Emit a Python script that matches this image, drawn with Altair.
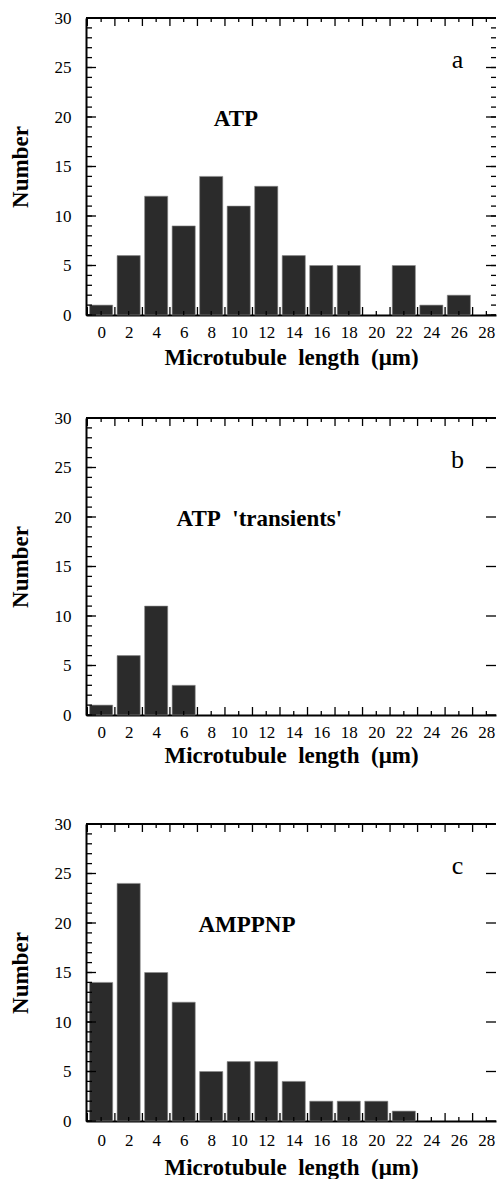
import altair as alt
import pandas as pd

# ---- data ----
bin_centers = [0, 2, 4, 6, 8, 10, 12, 14, 16, 18, 20, 22, 24, 26, 28]
counts_a = [1, 6, 12, 9, 14, 11, 13, 6, 5, 5, 0, 5, 1, 2, 0]
counts_b = [1, 6, 11, 3, 0, 0, 0, 0, 0, 0, 0, 0, 0, 0, 0]
counts_c = [14, 24, 15, 12, 5, 6, 6, 4, 2, 2, 2, 1, 0, 0, 0]
panel_letters = ["a", "b", "c"]
panel_names = ["ATP", "ATP\u00a0\u00a0'transients'", "AMPPNP"]
x_tick_labels = [0, 2, 4, 6, 8, 10, 12, 14, 16, 18, 20, 22, 24, 26, 28]
x_ticks_odd = list(range(-1, 29, 2))
x_ticks_even = list(range(0, 29, 2))
y_tick_labels = [0, 5, 10, 15, 20, 25, 30]
y_ticks_minor = list(range(0, 31))

W, H = 410, 297
FONT = "Liberation Serif"
HALF = 0.84
xscale = alt.Scale(domain=[-1.1, 28.7], nice=False, zero=False)
yscale = alt.Scale(domain=[0, 30], nice=False)


def xaxis(lp, tp):
    return alt.Axis(
        values=x_tick_labels,
        ticks=False,
        grid=False,
        domain=True,
        domainColor="black",
        domainWidth=2,
        labelFont=FONT,
        labelFontSize=17,
        labelColor="black",
        labelPadding=lp,
        labelFlush=False,
        title="Microtubule\u00a0\u00a0length\u00a0\u00a0(\u03bcm)",
        titleFont=FONT,
        titleFontSize=23,
        titleFontWeight="bold",
        titleColor="black",
        titlePadding=tp,
    )


YAXIS = alt.Axis(
    values=y_tick_labels,
    ticks=False,
    grid=False,
    domain=True,
    domainColor="black",
    domainWidth=2,
    labelFont=FONT,
    labelFontSize=17,
    labelColor="black",
    labelPadding=15,
    labelFlush=False,
    title="Number",
    titleFont=FONT,
    titleFontSize=23,
    titleFontWeight="bold",
    titleColor="black",
    titlePadding=22,
)


def panel(counts, letter, name, name_x, right_minor, lp, tp):
    XAXIS = xaxis(lp, tp)
    df = pd.DataFrame({"c": bin_centers, "n": counts})
    df = df[df.n > 0]
    bars = (
        alt.Chart(df)
        .transform_calculate(x0=f"datum.c - {HALF}", x1=f"datum.c + {HALF}")
        .mark_bar(color="#2b2b2b", stroke="#8a8a8a", strokeWidth=0.6)
        .encode(
            x=alt.X("x0:Q", scale=xscale, axis=XAXIS),
            x2="x1:Q",
            y=alt.Y("n:Q", scale=yscale, axis=YAXIS),
            y2=alt.datum(0),
        )
    )

    odd = pd.DataFrame({"t": x_ticks_odd})
    even = pd.DataFrame({"t": x_ticks_even})
    ymin = pd.DataFrame({"t": y_ticks_minor})
    ymaj = pd.DataFrame({"t": y_tick_labels})

    def xrule(d, y0, y1, sw=1.3):
        return alt.Chart(d).mark_rule(color="black", strokeWidth=sw).encode(
            x=alt.X("t:Q", scale=xscale, axis=XAXIS), y=alt.value(y0), y2=alt.value(y1)
        )

    def yrule(d, x0, x1, sw=1.3):
        return alt.Chart(d).mark_rule(color="black", strokeWidth=sw).encode(
            y=alt.Y("t:Q", scale=yscale, axis=YAXIS), x=alt.value(x0), x2=alt.value(x1)
        )

    layers = [
        bars,
        xrule(odd, H, H - 8),
        xrule(even, H, H - 4),
        xrule(odd, 0, 8),
        xrule(even, 0, 4),
        yrule(ymin, 0, 6),
        yrule(ymaj, 0, 10),
        yrule(ymaj, W, W - 10),
    ]
    if right_minor:
        layers.append(yrule(ymin, W, W - 5))
    top = alt.Chart(pd.DataFrame({"t": [0]})).mark_rule(color="black", strokeWidth=2).encode(
        x=alt.value(0), x2=alt.value(W), y=alt.value(0)
    )
    layers.append(top)
    letter_t = alt.Chart(pd.DataFrame({"s": [letter]})).transform_calculate(p="25.9", q="25.8").mark_text(
        font=FONT, fontSize=26, color="black", align="center", baseline="middle"
    ).encode(x=alt.X("p:Q", scale=xscale, axis=XAXIS), y=alt.Y("q:Q", scale=yscale, axis=YAXIS), text="s:N")
    name_t = alt.Chart(pd.DataFrame({"s": [name]})).transform_calculate(p=str(name_x), q="19.8").mark_text(
        font=FONT, fontSize=23, fontWeight="bold", color="black", align="center", baseline="middle"
    ).encode(x=alt.X("p:Q", scale=xscale, axis=XAXIS), y=alt.Y("q:Q", scale=yscale, axis=YAXIS), text="s:N")
    layers += [letter_t, name_t]
    return alt.layer(*layers).properties(width=W, height=H)


chart = (
    alt.vconcat(
        alt.vconcat(
            panel(counts_a, panel_letters[0], panel_names[0], 9.8, True, 9, 6),
            panel(counts_b, panel_letters[1], panel_names[1], 11.5, False, 9, 4),
            spacing=40,
        ),
        panel(counts_c, panel_letters[2], panel_names[2], 10.6, False, 11, 8),
        spacing=48,
    )
    .properties(padding={"left": 9, "top": 9, "right": 0, "bottom": 0}, background="white")
    .configure_view(stroke=None)
)

chart.save("out.html", embed_options={"renderer": "svg", "actions": False})
